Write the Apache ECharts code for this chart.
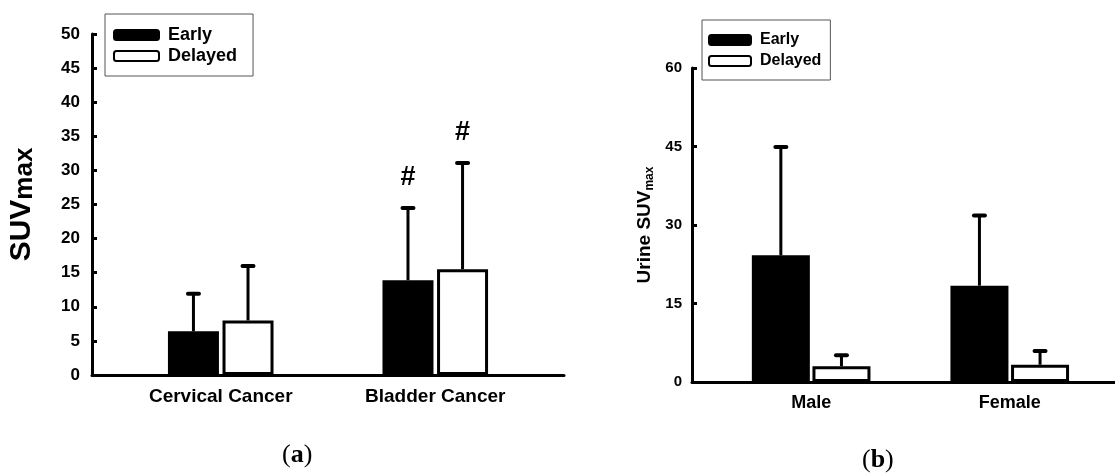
<!DOCTYPE html>
<html>
<head>
<meta charset="utf-8">
<script src="https://cdn.jsdelivr.net/npm/echarts@6/dist/echarts.min.js"></script>
<style>
  html, body { margin: 0; padding: 0; background: #fff; }
  #main { width: 1115px; height: 473px; }
</style>
</head>
<body>
<div id="main"></div>
<script>
// (a) SUVmax by cancer type
var catsA = ['Cervical Cancer', 'Bladder Cancer'];
var earlyA = [6.4, 13.9];
var earlySdA = [5.5, 10.6];
var delayedA = [8.0, 15.5];
var delayedSdA = [8.0, 15.6];
var earlyMarkA = ['', '#'];
var delayedMarkA = ['', '#'];
var ticksA = [0, 50, 5];

// (b) urine SUVmax by sex
var catsB = ['Male', 'Female'];
var earlyB = [24.2, 18.4];
var earlySdB = [20.7, 13.4];
var delayedB = [3.0, 3.3];
var delayedSdB = [2.1, 2.6];
var ticksB = [0, 60, 15];

var FONT = 'Liberation Sans, Arial, sans-serif';
var barWA = 51, gapA = 0.07;
var barWB = 58, gapB = 0.045;

function pts(vals, sds) {
	return vals.map(function (v, i) {
		return sds ? [i + 1, v, sds[i]] : [i + 1, v];
	});
}

function errRender(offset, marks) {
	return function (params, api) {
		var x = api.value(0), v = api.value(1), sd = api.value(2);
		var base = api.coord([x, v]);
		var top = api.coord([x, v + sd]);
		var cx = base[0] + offset;
		var kids = [
			{type: 'line', shape: {x1: cx, y1: base[1], x2: cx, y2: top[1]},
				style: {stroke: '#000', lineWidth: 3}},
			{type: 'line', shape: {x1: cx - 5.5, y1: top[1], x2: cx + 5.5, y2: top[1]},
				style: {stroke: '#000', lineWidth: 4, lineCap: 'round'}}
		];
		var m = marks && marks[params.dataIndex];
		if (m) {
			kids.push({type: 'text', x: cx, y: top[1] - 17,
				style: {text: m, fill: '#000', font: 'bold 27px ' + FONT, align: 'center', verticalAlign: 'bottom'}});
		}
		return {type: 'group', children: kids};
	};
}

function xAxisFor(gridIndex, cats, max, size) {
	return {
		type: 'value', gridIndex: gridIndex, min: 0.4, max: max,
		axisLine: {show: true, lineStyle: {color: '#000', width: 3}},
		axisTick: {show: false},
		splitLine: {show: false},
		axisLabel: {
			customValues: [1, 2], margin: 12,
			color: '#000', fontFamily: FONT, fontWeight: 'bold', fontSize: size,
			formatter: function (v) { return cats[Math.round(v) - 1] || ''; }
		}
	};
}

function yAxisFor(gridIndex, t, labelSize, margin) {
	return {
		type: 'value', gridIndex: gridIndex, min: t[0], max: t[1], interval: t[2],
		axisLine: {show: true, lineStyle: {color: '#000', width: 3}},
		axisTick: {show: true, inside: true, length: 5, lineStyle: {color: '#000', width: 3}},
		splitLine: {show: false},
		axisLabel: {color: '#000', fontFamily: FONT, fontWeight: 'bold', fontSize: labelSize, margin: margin}
	};
}

function legendFor(left, top, w, size, pad) {
	return {
		data: ['Early', 'Delayed'], orient: 'vertical', left: left, top: top,
		itemWidth: w, itemHeight: 10, itemGap: 3,
		padding: pad,
		borderColor: '#555', borderWidth: 1,
		selectedMode: false,
		textStyle: {color: '#000', fontFamily: FONT, fontWeight: 'bold', fontSize: size, lineHeight: 18, padding: [0, 0, 0, 4]}
	};
}

var earlyStyle = {color: '#000', borderColor: '#000', borderWidth: 3};
var delayedStyle = {color: '#fff', borderColor: '#000', borderWidth: 3};

var myChart = echarts.init(document.getElementById('main'));
var option = {
	animation: false,
	backgroundColor: '#fff',
	title: [
		{text: '({b|a})', left: 277, top: 437,
			textStyle: {fontFamily: 'Liberation Serif, serif', fontSize: 26, fontWeight: 'normal', color: '#000',
				rich: {b: {fontFamily: 'Liberation Serif, serif', fontSize: 26, fontWeight: 'bold', color: '#000'}}}},
		{text: '({b|b})', left: 857, top: 442,
			textStyle: {fontFamily: 'Liberation Serif, serif', fontSize: 26, fontWeight: 'normal', color: '#000',
				rich: {b: {fontFamily: 'Liberation Serif, serif', fontSize: 26, fontWeight: 'bold', color: '#000'}}}}
	],
	legend: [
		legendFor(105, 14, 45, 18, [12, 16, 11, 8]),
		legendFor(702, 20, 42, 16, [11, 9, 10, 6])
	],
	grid: [
		{left: 92, top: 34, width: 472, height: 341},
		{left: 692, top: 68, width: 423, height: 314}
	],
	xAxis: [xAxisFor(0, catsA, 2.6, 19), xAxisFor(1, catsB, 2.53, 18)],
	yAxis: [
		Object.assign(yAxisFor(0, ticksA, 17, 12), {
			name: '{a|SUV}{b|max}', nameLocation: 'middle', nameGap: 54, nameRotate: 90,
			nameTextStyle: {rich: {
				a: {fontFamily: FONT, fontWeight: 'bold', fontSize: 30, color: '#000'},
				b: {fontFamily: FONT, fontWeight: 'bold', fontSize: 26, color: '#000', padding: [6, 0, 0, 0]}
			}}
		}),
		Object.assign(yAxisFor(1, ticksB, 15, 10), {
			name: '{a|Urine SUV}{b|max}', nameLocation: 'middle', nameGap: 36, nameRotate: 90,
			nameTextStyle: {rich: {
				a: {fontFamily: FONT, fontWeight: 'bold', fontSize: 19, color: '#000'},
				b: {fontFamily: FONT, fontWeight: 'bold', fontSize: 12, color: '#000', padding: [10, 0, 0, 0]}
			}}
		})
	],
	series: [
		{name: 'Early', type: 'bar', xAxisIndex: 0, yAxisIndex: 0, barWidth: barWA, barGap: (gapA * 100) + '%',
			itemStyle: earlyStyle, data: pts(earlyA)},
		{name: 'Delayed', type: 'bar', xAxisIndex: 0, yAxisIndex: 0, barWidth: barWA, barGap: (gapA * 100) + '%',
			itemStyle: delayedStyle, data: pts(delayedA)},
		{name: 'errEarlyA', type: 'custom', xAxisIndex: 0, yAxisIndex: 0, z: 3,
			renderItem: errRender(-barWA * (1 + gapA) / 2, earlyMarkA), data: pts(earlyA, earlySdA)},
		{name: 'errDelayedA', type: 'custom', xAxisIndex: 0, yAxisIndex: 0, z: 3,
			renderItem: errRender(barWA * (1 + gapA) / 2, delayedMarkA), data: pts(delayedA, delayedSdA)},

		{name: 'Early', type: 'bar', xAxisIndex: 1, yAxisIndex: 1, barWidth: barWB, barGap: (gapB * 100) + '%',
			itemStyle: earlyStyle, data: pts(earlyB)},
		{name: 'Delayed', type: 'bar', xAxisIndex: 1, yAxisIndex: 1, barWidth: barWB, barGap: (gapB * 100) + '%',
			itemStyle: delayedStyle, data: pts(delayedB)},
		{name: 'errEarlyB', type: 'custom', xAxisIndex: 1, yAxisIndex: 1, z: 3,
			renderItem: errRender(-barWB * (1 + gapB) / 2, null), data: pts(earlyB, earlySdB)},
		{name: 'errDelayedB', type: 'custom', xAxisIndex: 1, yAxisIndex: 1, z: 3,
			renderItem: errRender(barWB * (1 + gapB) / 2, null), data: pts(delayedB, delayedSdB)}
	]
};
myChart.setOption(option);
</script>
</body>
</html>
